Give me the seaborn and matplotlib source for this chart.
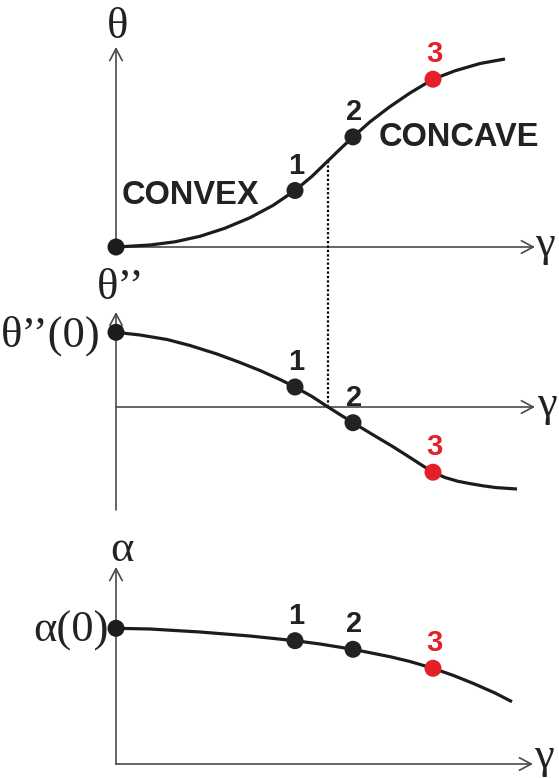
import matplotlib
matplotlib.use("Agg")
import matplotlib.pyplot as plt
import seaborn as sns
import pandas as pd

# ---- curve samples (gamma, quantity) ----
gamma_theta = [0, 0.14, 0.34, 0.59, 0.84, 1.09, 1.34, 1.57, 1.79, 1.96, 2.12,
               2.24, 2.37, 2.54, 2.74, 2.94, 3.17, 3.39, 3.64, 3.89]
theta = [0, 0.008, 0.02, 0.052, 0.107, 0.188, 0.293, 0.416, 0.565, 0.707, 0.862,
         0.978, 1.101, 1.252, 1.404, 1.54, 1.678, 1.762, 1.835, 1.88]

gamma_curv = [0, 0.24, 0.51, 0.74, 1.01, 1.24, 1.44, 1.64, 1.79, 1.96, 2.12, 2.24,
              2.37, 2.56, 2.77, 2.94, 3.06, 3.17, 3.29, 3.42, 3.54, 3.67, 3.80, 4.01]
curvature = [0.747, 0.72, 0.675, 0.615, 0.53, 0.445, 0.365, 0.275, 0.20, 0.105, 0.0,
             -0.076, -0.157, -0.272, -0.397, -0.505, -0.583, -0.652, -0.705, -0.743,
             -0.766, -0.788, -0.806, -0.82]

gamma_alpha = [0, 0.34, 0.84, 1.34, 1.79, 2.04, 2.37, 2.74, 2.94, 3.17, 3.37, 3.57,
               3.79, 3.96]
alpha = [1.357, 1.35, 1.32, 1.28, 1.233, 1.20, 1.147, 1.073, 1.025, 0.957, 0.887,
         0.807, 0.71, 0.623]

# ---- marked states ----
state_labels = ["1", "2", "3"]
state_gamma = [1.79, 2.37, 3.17]
state_theta = [0.565, 1.101, 1.678]
state_curv = [0.20, -0.157, -0.652]
state_alpha = [1.233, 1.147, 0.957]
state_colors = ["#222222", "#222222", "#e3202a"]

theta0, curv0, alpha0 = 0.0, 0.747, 1.357
gamma_inflection, theta_inflection = 2.12, 0.862

# ---- styling ----
AXIS_COLOR = "#4a4a4a"
CURVE_COLOR = "#1c1c1c"
TEXT_COLOR = "#222222"
SERIF = ["Liberation Serif", "DejaVu Serif"]
SANS = ["Liberation Sans", "DejaVu Sans"]
SYM_SIZE = 32

sns.set_theme(style="white")
plt.rcParams["font.family"] = SANS

W, H = 559, 778
fig = plt.figure(figsize=(W / 100, H / 100), dpi=100)
fig.patch.set_facecolor("white")

XLIM = (-1.16, 4.43)
bands = [(0, 260, (-0.13, 2.47)), (260, 520, (-1.13, 1.47)), (520, 778, (-0.14, 2.44))]
axes = []
for top, bot, ylim in bands:
    ax = fig.add_axes([0, 1 - bot / H, 1, (bot - top) / H])
    ax.set_xlim(*XLIM)
    ax.set_ylim(*ylim)
    ax.set_axis_off()
    axes.append(ax)
ax1, ax2, ax3 = axes


def draw_axes(ax, x_end, y_bottom, y_top):
    arrow = dict(arrowstyle="->,head_length=0.85,head_width=0.45", color=AXIS_COLOR,
                 lw=1.2, shrinkA=0, shrinkB=0, mutation_scale=10)
    ax.annotate("", xy=(x_end, 0), xytext=(0, 0), arrowprops=arrow, zorder=1)
    ax.annotate("", xy=(0, y_top), xytext=(0, y_bottom), arrowprops=arrow, zorder=1)


def draw_curve(ax, g, v):
    df = pd.DataFrame({"gamma": g, "value": v})
    sns.lineplot(data=df, x="gamma", y="value", ax=ax, color=CURVE_COLOR, lw=2.3,
                 sort=False, estimator=None, zorder=3,
                 solid_capstyle="butt", solid_joinstyle="round")


def draw_states(ax, values, first=None, dy=0.25):
    g = list(state_gamma)
    v = list(values)
    c = list(state_colors)
    if first is not None:
        g = [0] + g
        v = [first] + v
        c = [CURVE_COLOR] + c
    df = pd.DataFrame({"gamma": g, "value": v, "c": range(len(g))})
    sns.scatterplot(data=df, x="gamma", y="value", hue="c", palette=c, ax=ax, s=150,
                    linewidth=0, legend=False, zorder=4, clip_on=False)
    for lab, gx, vy, col in zip(state_labels, state_gamma, values, state_colors):
        ax.text(gx + 0.01, vy + dy, lab, color=col, fontsize=21, fontweight="bold",
                ha="center", va="center", family=SANS)


def symbol(ax, x, y, s, ha="center"):
    ax.text(x, y, s, family=SERIF, fontsize=SYM_SIZE, ha=ha, va="center",
            color=TEXT_COLOR)


# Panel 1: theta(gamma)
draw_axes(ax1, 4.19, 0, 2.0)
draw_curve(ax1, gamma_theta, theta)
draw_states(ax1, state_theta, first=theta0)
ax1.plot([gamma_inflection, gamma_inflection], [theta_inflection, -0.13], color="black",
         lw=1.6, ls=(0, (1, 1)), zorder=2, clip_on=False)
symbol(ax1, 0.02, 2.20, "θ")
symbol(ax1, 4.29, 0.02, "γ")
ax1.text(0.74, 0.515, "CONVEX", fontsize=23.5, fontweight="bold", ha="center",
         va="center", color=TEXT_COLOR)
ax1.text(3.43, 1.09, "CONCAVE", fontsize=23.5, fontweight="bold", ha="center",
         va="center", color=TEXT_COLOR)

# Panel 2: theta''(gamma)
draw_axes(ax2, 4.19, -1.03, 0.95)
draw_curve(ax2, gamma_curv, curvature)
draw_states(ax2, state_curv, first=curv0)
ax2.plot([gamma_inflection, gamma_inflection], [0, 1.47], color="black", lw=1.6,
         ls=(0, (1, 1)), zorder=2, clip_on=False)
symbol(ax2, 0.05, 1.19, "θ’’")
symbol(ax2, -0.15, 0.71, "θ’’(0)", ha="right")
symbol(ax2, 4.31, 0.02, "γ")

# Panel 3: alpha(gamma)
draw_axes(ax3, 4.17, 0, 1.97)
draw_curve(ax3, gamma_alpha, alpha)
draw_states(ax3, state_alpha, first=alpha0)
symbol(ax3, 0.057, 2.14, "α")
symbol(ax3, -0.07, 1.33, "α(0)", ha="right")
symbol(ax3, 4.28, 0.07, "γ")

fig.savefig("out.png", dpi=100, facecolor="white")
